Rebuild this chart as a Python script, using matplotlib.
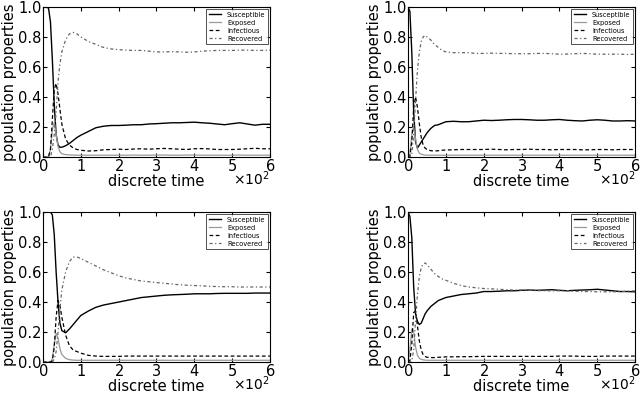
import numpy as np
import matplotlib
matplotlib.use("Agg")
import matplotlib.pyplot as plt
from matplotlib.ticker import ScalarFormatter

# time grid shared by all four runs (discrete time steps)
t = [0, 5, 10, 15, 20, 25, 30, 35, 40, 45, 50, 60, 70, 80, 90, 100,
     120, 140, 160, 180, 200, 220, 240, 260, 280, 300, 320, 340, 360,
     380, 400, 420, 440, 460, 480, 500, 520, 540, 560, 580, 600]

# panel 1 (top left)
s1 = [1.0, 1.0, 1.0, 0.99, 0.9, 0.65, 0.35, 0.15, 0.08, 0.065, 0.065, 0.075, 0.09,
      0.11, 0.13, 0.145, 0.17, 0.195, 0.205, 0.21, 0.21, 0.212, 0.215, 0.215, 0.22,
      0.222, 0.225, 0.228, 0.228, 0.23, 0.232, 0.228, 0.225, 0.22, 0.215, 0.222,
      0.228, 0.22, 0.212, 0.218, 0.218]
e1 = [0.0, 0.0, 0.0, 0.005, 0.05, 0.18, 0.23, 0.15, 0.07, 0.035, 0.022, 0.016, 0.014,
      0.013, 0.012, 0.012, 0.012, 0.012, 0.012, 0.012, 0.012, 0.012, 0.013, 0.012,
      0.012, 0.013, 0.013, 0.012, 0.012, 0.013, 0.013, 0.012, 0.012, 0.012, 0.012,
      0.012, 0.013, 0.012, 0.012, 0.012, 0.012]
i1 = [0.0, 0.0, 0.0, 0.003, 0.05, 0.25, 0.45, 0.49, 0.42, 0.32, 0.22, 0.12, 0.08,
      0.06, 0.05, 0.045, 0.04, 0.042, 0.048, 0.05, 0.052, 0.05, 0.053, 0.055, 0.052,
      0.055, 0.057, 0.055, 0.052, 0.05, 0.055, 0.056, 0.054, 0.05, 0.05, 0.05, 0.052,
      0.055, 0.058, 0.055, 0.055]
r1 = [0.0, 0.0, 0.0, 0.0, 0.0, 0.05, 0.15, 0.3, 0.5, 0.62, 0.7, 0.78, 0.82, 0.83,
      0.82, 0.8, 0.77, 0.75, 0.73, 0.72, 0.715, 0.712, 0.71, 0.71, 0.705, 0.70, 0.70,
      0.702, 0.70, 0.698, 0.70, 0.705, 0.708, 0.71, 0.71, 0.71, 0.712, 0.712, 0.71,
      0.71, 0.712]

# panel 2 (top right)
s2 = [1.0, 0.97, 0.7, 0.3, 0.1, 0.06, 0.08, 0.1, 0.12, 0.14, 0.16, 0.19, 0.21,
      0.215, 0.225, 0.235, 0.238, 0.235, 0.235, 0.24, 0.245, 0.243, 0.245, 0.248,
      0.25, 0.25, 0.248, 0.245, 0.245, 0.248, 0.25, 0.245, 0.242, 0.24, 0.245,
      0.248, 0.245, 0.24, 0.24, 0.242, 0.24]
e2 = [0.0, 0.02, 0.15, 0.2, 0.12, 0.05, 0.025, 0.018, 0.015, 0.013, 0.012, 0.012,
      0.012, 0.012, 0.012, 0.012, 0.012, 0.012, 0.012, 0.012, 0.012, 0.012, 0.012,
      0.012, 0.012, 0.012, 0.012, 0.012, 0.012, 0.012, 0.012, 0.012, 0.012, 0.012,
      0.012, 0.012, 0.012, 0.012, 0.012, 0.012, 0.012]
i2 = [0.0, 0.005, 0.1, 0.33, 0.4, 0.33, 0.22, 0.13, 0.08, 0.06, 0.05, 0.042, 0.04,
      0.042, 0.045, 0.047, 0.048, 0.05, 0.05, 0.05, 0.05, 0.052, 0.05, 0.048, 0.05,
      0.05, 0.052, 0.05, 0.05, 0.048, 0.05, 0.05, 0.05, 0.048, 0.048, 0.05, 0.05,
      0.048, 0.05, 0.05, 0.05]
r2 = [0.0, 0.0, 0.02, 0.15, 0.38, 0.58, 0.7, 0.77, 0.8, 0.81, 0.8, 0.78, 0.75,
      0.73, 0.71, 0.7, 0.695, 0.695, 0.695, 0.69, 0.69, 0.692, 0.69, 0.69, 0.688,
      0.688, 0.688, 0.69, 0.69, 0.688, 0.685, 0.686, 0.688, 0.69, 0.688, 0.685,
      0.685, 0.685, 0.685, 0.683, 0.685]

# panel 3 (bottom left)
s3 = [1.0, 1.0, 1.0, 1.0, 1.0, 0.98, 0.85, 0.6, 0.4, 0.26, 0.21, 0.195, 0.22,
      0.25, 0.28, 0.31, 0.34, 0.365, 0.38, 0.39, 0.40, 0.41, 0.42, 0.43, 0.435,
      0.44, 0.445, 0.448, 0.45, 0.452, 0.455, 0.455, 0.455, 0.457, 0.458, 0.458,
      0.458, 0.458, 0.46, 0.46, 0.46]
e3 = [0.0, 0.0, 0.0, 0.0, 0.0, 0.02, 0.12, 0.19, 0.16, 0.09, 0.05, 0.025, 0.016,
      0.013, 0.012, 0.012, 0.012, 0.012, 0.012, 0.012, 0.012, 0.012, 0.012, 0.012,
      0.012, 0.012, 0.012, 0.012, 0.012, 0.012, 0.012, 0.012, 0.012, 0.012, 0.012,
      0.012, 0.012, 0.012, 0.012, 0.012, 0.012]
i3 = [0.0, 0.0, 0.0, 0.0, 0.0, 0.01, 0.1, 0.3, 0.41, 0.38, 0.3, 0.18, 0.11, 0.08,
      0.07, 0.06, 0.045, 0.04, 0.038, 0.038, 0.038, 0.04, 0.04, 0.04, 0.04, 0.04,
      0.04, 0.04, 0.04, 0.04, 0.04, 0.04, 0.04, 0.04, 0.04, 0.04, 0.04, 0.04, 0.04,
      0.04, 0.04]
r3 = [0.0, 0.0, 0.0, 0.0, 0.0, 0.0, 0.02, 0.07, 0.2, 0.35, 0.48, 0.6, 0.67, 0.7,
      0.7, 0.69, 0.665, 0.64, 0.615, 0.595, 0.575, 0.56, 0.55, 0.54, 0.535, 0.53,
      0.525, 0.52, 0.515, 0.512, 0.51, 0.508, 0.505, 0.503, 0.502, 0.502, 0.5, 0.5,
      0.5, 0.5, 0.5]

# panel 4 (bottom right)
s4 = [1.0, 0.97, 0.83, 0.5, 0.32, 0.27, 0.25, 0.26, 0.29, 0.32, 0.34, 0.37, 0.39,
      0.41, 0.42, 0.43, 0.44, 0.45, 0.455, 0.46, 0.47, 0.47, 0.472, 0.475, 0.475,
      0.478, 0.48, 0.478, 0.48, 0.482, 0.478, 0.475, 0.478, 0.48, 0.482, 0.485,
      0.48, 0.475, 0.47, 0.47, 0.468]
e4 = [0.0, 0.08, 0.22, 0.2, 0.1, 0.045, 0.025, 0.018, 0.015, 0.013, 0.012, 0.012,
      0.012, 0.012, 0.012, 0.012, 0.012, 0.012, 0.012, 0.012, 0.012, 0.012, 0.012,
      0.012, 0.012, 0.012, 0.012, 0.012, 0.012, 0.012, 0.012, 0.012, 0.012, 0.012,
      0.012, 0.012, 0.012, 0.012, 0.012, 0.012, 0.012]
i4 = [0.0, 0.01, 0.12, 0.33, 0.34, 0.24, 0.14, 0.08, 0.05, 0.038, 0.032, 0.03,
      0.03, 0.032, 0.033, 0.035, 0.035, 0.036, 0.036, 0.037, 0.038, 0.038, 0.038,
      0.038, 0.038, 0.038, 0.038, 0.038, 0.038, 0.038, 0.04, 0.04, 0.04, 0.038,
      0.038, 0.038, 0.04, 0.04, 0.04, 0.04, 0.04]
r4 = [0.0, 0.0, 0.01, 0.08, 0.28, 0.45, 0.57, 0.63, 0.655, 0.66, 0.65, 0.62, 0.59,
      0.57, 0.555, 0.545, 0.525, 0.51, 0.5, 0.495, 0.49, 0.488, 0.485, 0.482, 0.48,
      0.48, 0.478, 0.476, 0.475, 0.475, 0.475, 0.475, 0.472, 0.47, 0.47, 0.468,
      0.468, 0.468, 0.47, 0.472, 0.475]

panels = [(s1, e1, i1, r1), (s2, e2, i2, r2), (s3, e3, i3, r3), (s4, e4, i4, r4)]
names = ["Susceptible", "Exposed", "Infectious", "Recovered"]

# axes rectangles in figure fractions: [left, bottom, width, height]
rects = [[0.067, 0.6015, 0.355, 0.381],
         [0.6375, 0.6015, 0.355, 0.381],
         [0.067, 0.081, 0.355, 0.381],
         [0.6375, 0.081, 0.355, 0.381]]

plt.rcParams['font.family'] = 'DejaVu Sans'
plt.rcParams['font.size'] = 9

fig = plt.figure(figsize=(6.4, 3.94), dpi=100)
fig.patch.set_facecolor('white')

for rect, (s, e, inf, r) in zip(rects, panels):
    ax = fig.add_axes(rect)
    ax.plot(t, s, color='black', lw=1.0, label=names[0])
    ax.plot(t, e, color='#999999', lw=0.9, label=names[1])
    ax.plot(t, inf, color='black', lw=0.9, ls='--', dashes=(3, 2), label=names[2])
    ax.plot(t, r, color='#666666', lw=0.9, ls=(0, (2.5, 2, 1, 2)), label=names[3])

    ax.set_xlim(0, 600)
    ax.set_ylim(0, 1.0)
    ax.set_xticks([0, 100, 200, 300, 400, 500, 600])
    ax.set_yticks([0.0, 0.2, 0.4, 0.6, 0.8, 1.0])
    fmt = ScalarFormatter(useMathText=True)
    fmt.set_powerlimits((0, 0))
    ax.xaxis.set_major_formatter(fmt)
    ax.tick_params(direction='in', top=True, right=True, length=3,
                   labelsize=10.5, pad=1)
    off = ax.xaxis.get_offset_text()
    off.set_fontsize(10)
    off.set_va('center')
    ax.set_xlabel('discrete time', fontsize=10.5, labelpad=0)
    ax.set_ylabel('population properties', fontsize=10.5, labelpad=1)
    for sp in ax.spines.values():
        sp.set_linewidth(0.8)

    leg = ax.legend(loc='upper right', fontsize=4.8, frameon=True, fancybox=False,
                    handlelength=1.8, borderpad=0.4, labelspacing=0.3,
                    handletextpad=0.9, borderaxespad=0.3)
    leg.get_frame().set_edgecolor('black')
    leg.get_frame().set_linewidth(0.6)

fig.savefig('out.png', dpi=100, facecolor='white')
